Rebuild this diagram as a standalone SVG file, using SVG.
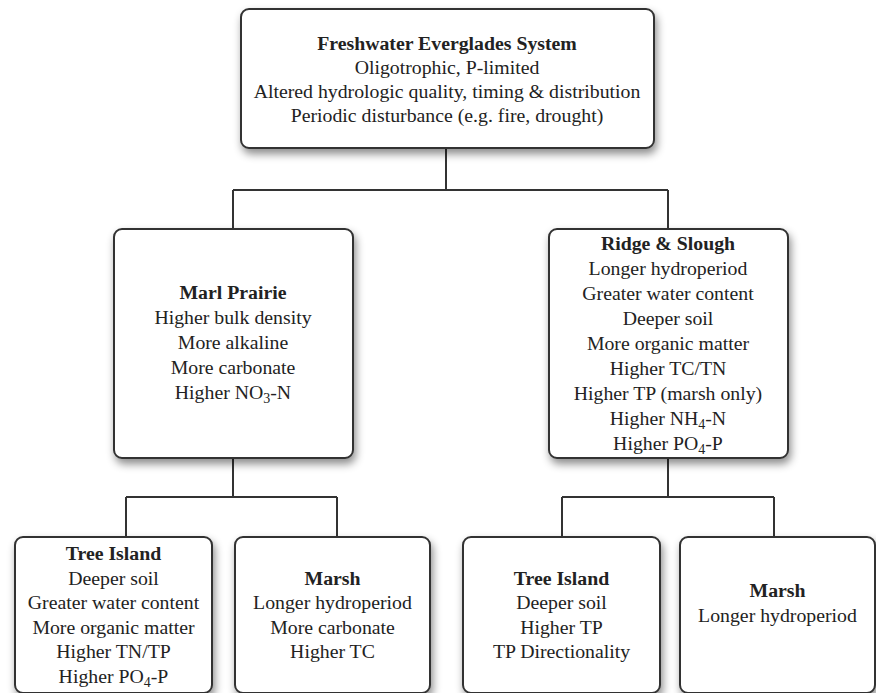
<svg xmlns="http://www.w3.org/2000/svg" width="876" height="693" viewBox="0 0 876 693">
<defs>
<filter id="sh" x="-10%" y="-10%" width="125%" height="130%">
<feDropShadow dx="2" dy="5" stdDeviation="4" flood-color="#000" flood-opacity="0.45"/>
</filter>
</defs>
<style>
.box{fill:#fff;stroke:#333;stroke-width:2;filter:url(#sh)}
.ln{fill:none;stroke:#333;stroke-width:2}
text{font-family:"Liberation Serif","Times New Roman",serif;font-size:19.8px;fill:#222;text-anchor:middle}
.b{font-weight:bold}
.s{font-size:14px}
</style>
<rect width="876" height="693" fill="#fff"/>
<g id="connectors">
<path class="ln" d="M446,148 V190 M233,190 H668 M233,190 V229 M668,190 V229"/>
<path class="ln" d="M233,458 V497 M126,497 H337 M126,497 V537 M337,497 V537"/>
<path class="ln" d="M668,458 V497 M562,497 H774 M562,497 V537 M774,497 V537"/>
</g>
<g id="n-top">
<rect class="box" x="241" y="9" width="413" height="139" rx="8"/>
<text x="447" y="50" class="b">Freshwater Everglades System</text>
<text x="447" y="74">Oligotrophic, P-limited</text>
<text x="447" y="98">Altered hydrologic quality, timing &amp; distribution</text>
<text x="447" y="122">Periodic disturbance (e.g. fire, drought)</text>
</g>
<g id="n-marl">
<rect class="box" x="114" y="229" width="239" height="229" rx="8"/>
<text x="233" y="299" class="b">Marl Prairie</text>
<text x="233" y="324">Higher bulk density</text>
<text x="233" y="349">More alkaline</text>
<text x="233" y="374">More carbonate</text>
<text x="233" y="399">Higher NO<tspan class="s" dy="4">3</tspan><tspan dy="-4">-N</tspan></text>
</g>
<g id="n-ridge">
<rect class="box" x="549" y="229" width="239" height="229" rx="8"/>
<text x="668" y="250" class="b">Ridge &amp; Slough</text>
<text x="668" y="275">Longer hydroperiod</text>
<text x="668" y="300">Greater water content</text>
<text x="668" y="325">Deeper soil</text>
<text x="668" y="350">More organic matter</text>
<text x="668" y="375">Higher TC/TN</text>
<text x="668" y="400">Higher TP (marsh only)</text>
<text x="668" y="425">Higher NH<tspan class="s" dy="4">4</tspan><tspan dy="-4">-N</tspan></text>
<text x="668" y="450">Higher PO<tspan class="s" dy="4">4</tspan><tspan dy="-4">-P</tspan></text>
</g>
<g id="n-ti-left">
<rect class="box" x="15" y="537" width="197" height="156" rx="8"/>
<text x="113.5" y="560" class="b">Tree Island</text>
<text x="113.5" y="585">Deeper soil</text>
<text x="113.5" y="609">Greater water content</text>
<text x="113.5" y="634">More organic matter</text>
<text x="113.5" y="658">Higher TN/TP</text>
<text x="113.5" y="683">Higher PO<tspan class="s" dy="4">4</tspan><tspan dy="-4">-P</tspan></text>
</g>
<g id="n-marsh-left">
<rect class="box" x="235" y="537" width="195" height="156" rx="8"/>
<text x="332.5" y="585" class="b">Marsh</text>
<text x="332.5" y="609">Longer hydroperiod</text>
<text x="332.5" y="634">More carbonate</text>
<text x="332.5" y="658">Higher TC</text>
</g>
<g id="n-ti-right">
<rect class="box" x="463" y="537" width="197" height="156" rx="8"/>
<text x="561.5" y="585" class="b">Tree Island</text>
<text x="561.5" y="609">Deeper soil</text>
<text x="561.5" y="634">Higher TP</text>
<text x="561.5" y="658">TP Directionality</text>
</g>
<g id="n-marsh-right">
<rect class="box" x="680" y="537" width="195" height="156" rx="8"/>
<text x="777.5" y="597" class="b">Marsh</text>
<text x="777.5" y="622">Longer hydroperiod</text>
</g>
</svg>
